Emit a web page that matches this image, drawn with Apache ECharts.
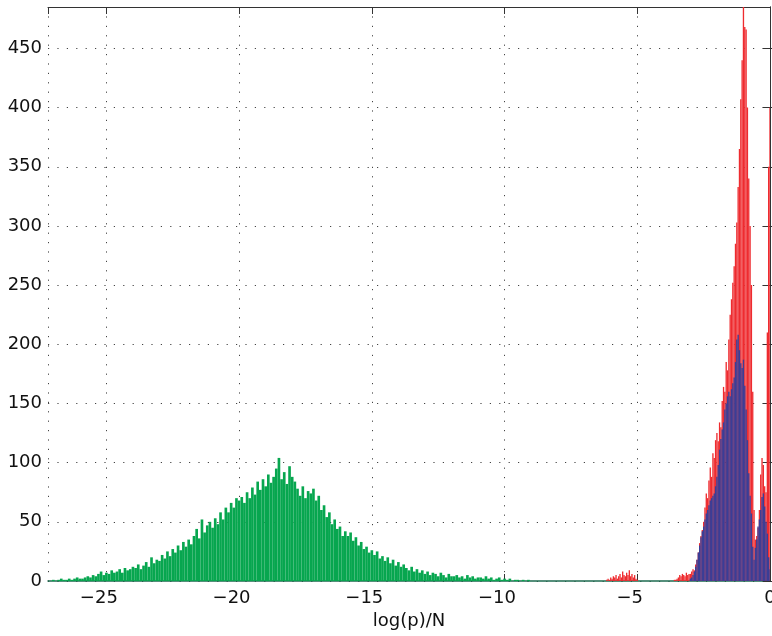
<!DOCTYPE html>
<html>
<head>
<meta charset="utf-8">
<script src="https://cdn.jsdelivr.net/npm/echarts@6/dist/echarts.min.js"></script>
<style>
html,body{margin:0;padding:0;background:#fff;}
#chart{width:772px;height:636px;}
</style>
</head>
<body>
<div id="chart"></div>
<script>
// ---- data (histogram bin counts) ----
const greenStart = -27.0;
const greenWidth = 0.1;
const greenValues = [
  1,0,1,2,1,1,2,1,2,3,2,
  2,3,4,3,5,4,6,8,5,7,
  6,9,7,8,10,7,11,9,10,12,
  11,14,10,13,16,12,20,15,18,17,
  22,19,25,21,27,24,30,26,33,29,
  35,31,38,44,36,52,41,47,50,45,
  53,48,58,52,62,58,66,62,70,68,
  71,66,75,70,79,73,84,77,86,80,
  90,83,88,95,104,86,92,82,97,88,
  84,78,72,80,70,76,74,78,68,72,
  60,64,54,58,48,52,44,46,38,42,
  38,41,34,37,30,33,27,29,24,26,
  22,25,19,21,17,20,15,18,13,16,
  12,14,11,9,12,8,10,7,9,6,
  8,5,7,6,4,7,5,3,6,4,
  4,5,3,4,2,5,3,4,2,3,
  3,2,4,2,3,1,2,3,1,2,
  1,2,0,1,1,0,1,0,1,0
];
const redStart = -6.2;
const redWidth = 0.05;
const redValues = [
  0,1,2,1,3,2,4,3,5,2,4,6,3,8,5,4,7,5,9,4,6,3,5,2,
  1,0,0,0,0,0,0,0,0,0,0,0,0,0,0,0,0,0,0,0,0,0,0,0,0,0,0,0,1,1,
  2,3,5,4,6,5,4,7,5,6,
  6,8,10,9,14,18,24,32,38,43,
  50,62,74,70,85,96,88,108,104,119,
  125,118,134,130,152,164,160,185,178,204,
  225,238,252,266,285,303,333,365,407,440,
  490,468,466,400,340,300,250,160,60,35,
  38,45,60,90,104,98,80,75,210,350,
  400
];
const blueStart = -3.0;
const blueWidth = 0.05;
const blueValues = [
  2,3,5,8,12,18,24,30,37,42,
  46,52,57,60,64,68,70,72,74,80,
  88,98,111,120,128,134,145,150,156,160,
  156,162,167,172,185,204,208,195,184,180,
  187,165,145,119,91,72,57,29,18,28,
  35,46,52,60,71,74,63,50,40,20,
  10
];
const xTicks = [-25, -20, -15, -10, -5, 0];
const yTicks = [0, 50, 100, 150, 200, 250, 300, 350, 400, 450];
const xName = 'log(p)/N';

function bins(start, width, values) {
  return values.map((v, i) => [+(start + i * width).toFixed(3), v]);
}

function histSeries(name, start, width, values, color) {
  return {
    type: 'custom', name: name, xAxisIndex: 0, yAxisIndex: 0, clip: true,
    data: bins(start, width, values),
    encode: { x: 0, y: 1 },
    renderItem: function (params, api) {
      const x = api.value(0), y = api.value(1);
      const p0 = api.coord([x - width / 2, 0]);
      const p1 = api.coord([x + width / 2, y]);
      return {
        type: 'rect',
        shape: { x: p0[0], y: p1[1], width: p1[0] - p0[0], height: p0[1] - p1[1] },
        style: { fill: color }
      };
    }
  };
}

const FONT = '"DejaVu Sans", "Liberation Sans", Arial, sans-serif';
const FS = 18;
const gridLine = { show: true, lineStyle: { color: '#444', width: 1, type: [1.2, 8.2] } };

const chart = echarts.init(document.getElementById('chart'), null, { renderer: 'canvas' });
chart.setOption({
  animation: false,
  backgroundColor: '#fff',
  grid: { left: 48, right: 2, top: 7, bottom: 55, containLabel: false, outerBoundsMode: 'none' },
  xAxis: [{
    type: 'value', min: -27.2, max: 0, splitNumber: 6,
    name: xName, nameLocation: 'middle', nameGap: 31,
    nameTextStyle: { fontFamily: FONT, fontSize: FS, color: '#111' },
    axisLine: { show: true, onZero: false, lineStyle: { color: '#1e6b50', width: 1.5 } },
    axisTick: { show: true, inside: true, length: 7, lineStyle: { color: '#333' } },
    axisLabel: {
      show: true, margin: 8, fontFamily: FONT, fontSize: FS, color: '#111',
      showMinLabel: false,
      formatter: function (v) {
        const r = Math.round(v);
        if (Math.abs(v - r) > 1e-6 || xTicks.indexOf(r) < 0) return '';
        if (r < 0) return '{t|\u2212' + (-r) + '}{h|\u2212}';
        return '{t|' + r + '}';
      },
      rich: {
        t: { fontFamily: FONT, fontSize: FS, color: '#111' },
        h: { fontFamily: FONT, fontSize: FS, color: 'rgba(0,0,0,0)' }
      }
    },
    splitLine: gridLine
  }, {
    type: 'value', position: 'top', min: -27.2, max: 0, splitNumber: 6,
    axisLine: { show: true, onZero: false, lineStyle: { color: '#333', width: 1 } },
    axisTick: { show: true, inside: true, length: 7, lineStyle: { color: '#333' } },
    axisLabel: { show: false }, splitLine: { show: false }
  }],
  yAxis: [{
    type: 'value', min: 0, max: 485, interval: 50,
    axisLine: { show: true, lineStyle: { color: '#333', width: 1 } },
    axisTick: { show: true, inside: true, length: 7, lineStyle: { color: '#333' } },
    axisLabel: {
      show: true, margin: 6, fontFamily: FONT, fontSize: FS, color: '#111',
      showMaxLabel: false,
      formatter: v => yTicks.indexOf(v) >= 0 ? String(v) : ''
    },
    splitLine: gridLine
  }, {
    type: 'value', position: 'right', min: 0, max: 485, interval: 50,
    axisLine: { show: true, lineStyle: { color: '#333', width: 1 } },
    axisTick: { show: true, inside: true, length: 7, lineStyle: { color: '#333' } },
    axisLabel: { show: false }, splitLine: { show: false }
  }],
  series: [
    histSeries('green', greenStart, greenWidth, greenValues, '#07a64f'),
    histSeries('red', redStart, redWidth, redValues, '#ee2b2f'),
    histSeries('blue', blueStart, blueWidth, blueValues, '#3a3e97')
  ]
});
</script>
</body>
</html>
